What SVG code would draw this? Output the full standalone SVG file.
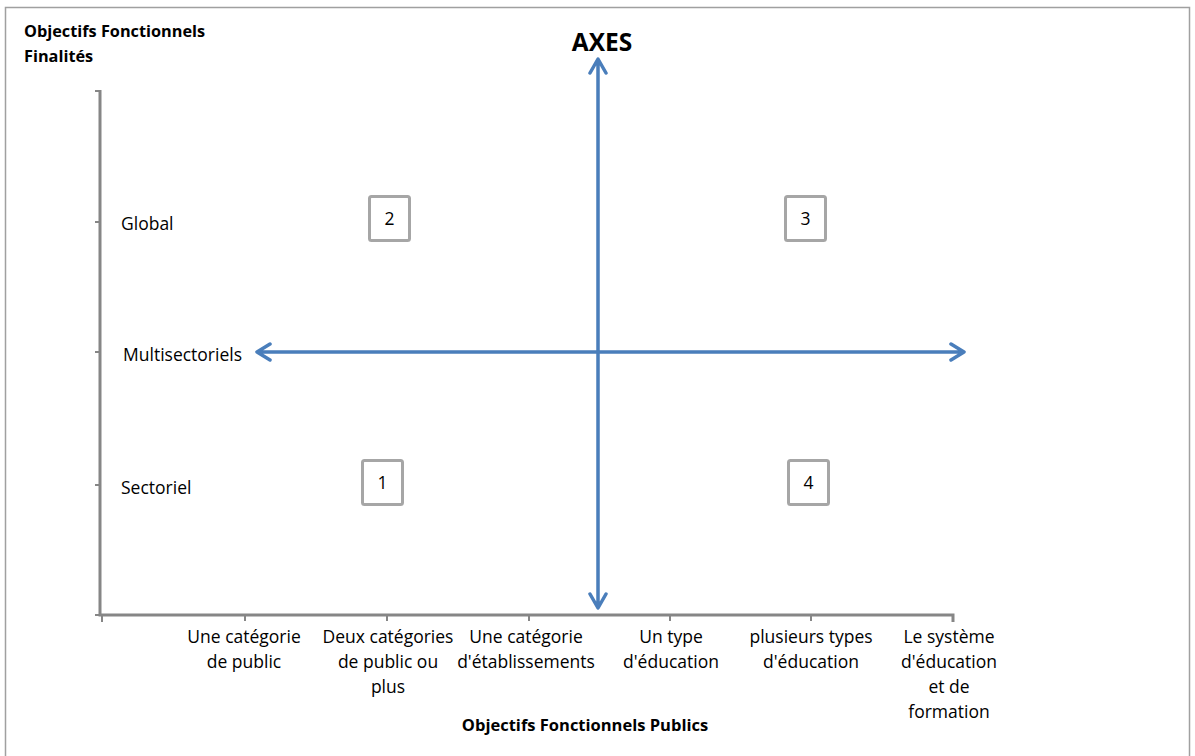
<svg xmlns="http://www.w3.org/2000/svg" width="1195" height="756" viewBox="0 0 1195 756">
<style>
.t{font-family:"Open Sans","Liberation Sans",sans-serif;font-size:17.5px;fill:#000}
.c{text-anchor:middle}
.b{font-weight:bold}
.ax{stroke:#868686;stroke-width:3;fill:none}
.tk{stroke:#868686;stroke-width:2;fill:none}
.ar{stroke:#4A7EBB;stroke-width:3.5;fill:none;stroke-linecap:round;stroke-linejoin:round}
.bx{fill:#fff;stroke:#A6A6A6;stroke-width:3}
</style>
<rect x="0" y="0" width="1195" height="756" fill="#fff"/>
<rect x="5.5" y="7.5" width="1184" height="760" fill="none" stroke="#A0A0A0" stroke-width="1.5"/>
<text class="t b" x="24" y="37" style="font-size:16.3px">Objectifs Fonctionnels</text>
<text class="t b" x="24" y="62" style="font-size:16.3px">Finalités</text>
<g id="axes">
<path class="ax" d="M100 90 V615 H953 V622"/>
<path class="tk" d="M95 91 H100 M95 222 H100 M95 352 H100 M95 485 H100 M95 615 H100 M102 615 V622 M245 615 V621 M387 615 V621 M529 615 V621 M670 615 V621 M811 615 V621"/>
</g>
<text class="t" x="121" y="230">Global</text>
<text class="t" x="123" y="361">Multisectoriels</text>
<text class="t" x="121" y="494">Sectoriel</text>
<g id="connectors">
<path class="ar" d="M598 60 V607 M590 73 L598 59 L606 73 M590 594 L598 608 L606 594"/>
<path class="ar" d="M257 352 H964 M270 344 L257 352 L270 360 M951 344 L964 352 L951 360"/>
</g>
<text class="t b c" x="602" y="51" style="font-size:24.5px">AXES</text>
<g id="q2"><rect class="bx" x="369.5" y="196.5" width="40" height="44" rx="2"/><text class="t c" x="389.5" y="225">2</text></g>
<g id="q3"><rect class="bx" x="785.5" y="196.5" width="40" height="44" rx="2"/><text class="t c" x="805.5" y="225">3</text></g>
<g id="q1"><rect class="bx" x="362.5" y="460.5" width="40" height="44" rx="2"/><text class="t c" x="382.5" y="489">1</text></g>
<g id="q4"><rect class="bx" x="788.5" y="460.5" width="40" height="44" rx="2"/><text class="t c" x="808.5" y="489">4</text></g>
<text class="t c" x="244" y="643">Une catégorie</text>
<text class="t c" x="244" y="668">de public</text>
<text class="t c" x="388" y="643">Deux catégories</text>
<text class="t c" x="388" y="668">de public ou</text>
<text class="t c" x="388" y="693">plus</text>
<text class="t c" x="526" y="643">Une catégorie</text>
<text class="t c" x="526" y="668">d'établissements</text>
<text class="t c" x="671" y="643">Un type</text>
<text class="t c" x="671" y="668">d'éducation</text>
<text class="t c" x="811" y="643">plusieurs types</text>
<text class="t c" x="811" y="668">d'éducation</text>
<text class="t c" x="949" y="643">Le système</text>
<text class="t c" x="949" y="668">d'éducation</text>
<text class="t c" x="949" y="693">et de</text>
<text class="t c" x="949" y="718">formation</text>
<text class="t b c" x="585" y="731" style="font-size:16.5px">Objectifs Fonctionnels  Publics</text>
</svg>
